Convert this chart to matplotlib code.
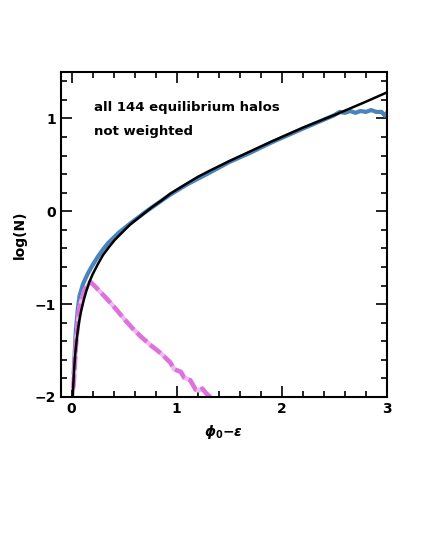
import numpy as np
import matplotlib
matplotlib.use('Agg')
import matplotlib.pyplot as plt
from matplotlib.ticker import MultipleLocator

plt.rcParams['font.family'] = ['DejaVu Sans']
plt.rcParams['font.weight'] = 'bold'

# model curve (black)
model_x = [0.012, 0.016, 0.022, 0.03, 0.038, 0.05, 0.06, 0.075, 0.092, 0.115, 0.14,
           0.17, 0.2, 0.25, 0.3, 0.36, 0.41, 0.48, 0.56, 0.66, 0.76, 0.86, 0.94,
           1.04, 1.2, 1.32, 1.5, 1.69, 1.9, 2.2, 2.53, 2.8, 3.0]
model_y = [-2.0, -1.88, -1.75, -1.61, -1.50, -1.37, -1.28, -1.17, -1.07, -0.96, -0.86,
           -0.76, -0.68, -0.57, -0.47, -0.38, -0.31, -0.23, -0.14, -0.05, 0.04, 0.12,
           0.19, 0.26, 0.37, 0.44, 0.54, 0.64, 0.75, 0.90, 1.05, 1.18, 1.28]

# all halos, not weighted (blue)
blue_x = [0.02, 0.04, 0.06, 0.076, 0.11, 0.155, 0.2, 0.25, 0.3, 0.35, 0.45, 0.56,
          0.7, 0.8, 0.94, 1.1, 1.32, 1.5, 1.7, 1.9, 2.2, 2.5, 2.55, 2.6, 2.65,
          2.7, 2.75, 2.8, 2.85, 2.9, 2.95, 2.98, 3.0]
blue_y = [-1.75, -1.3, -1.05, -0.91, -0.78, -0.67, -0.58, -0.49, -0.41, -0.34, -0.23,
          -0.13, -0.01, 0.07, 0.18, 0.29, 0.42, 0.53, 0.63, 0.74, 0.89, 1.035, 1.07,
          1.06, 1.08, 1.06, 1.08, 1.07, 1.09, 1.07, 1.07, 1.03, 1.06]

# second component (pink, dashed)
pink_x = [0.016, 0.022, 0.045, 0.076, 0.124, 0.18, 0.25, 0.35, 0.435, 0.50, 0.58,
          0.66, 0.75, 0.85, 0.94, 0.975, 1.04, 1.07, 1.13, 1.18, 1.21, 1.245, 1.28, 1.32]
pink_y = [-1.9, -1.82, -1.39, -1.03, -0.85, -0.76, -0.84, -0.96, -1.07, -1.16, -1.26,
          -1.35, -1.44, -1.53, -1.63, -1.70, -1.73, -1.79, -1.82, -1.92, -1.93, -1.91,
          -1.96, -2.0]

fig = plt.figure(figsize=(4.21, 5.45), dpi=100)
ax = fig.add_axes([0.145, 0.2716, 0.774, 0.5963])

ax.plot(blue_x, blue_y, color='#4a84bd', lw=3.0, solid_capstyle='round')
ax.plot(pink_x, pink_y, color='#f0b8f0', lw=3.2)
ax.plot(pink_x, pink_y, color='#dd72dd', lw=3.2, ls=(0, (3, 1)))
ax.plot(model_x, model_y, color='black', lw=1.8)

ax.set_xlim(-0.1, 3.0)
ax.set_ylim(-2.0, 1.5)
ax.xaxis.set_major_locator(MultipleLocator(1))
ax.xaxis.set_minor_locator(MultipleLocator(0.2))
ax.yaxis.set_major_locator(MultipleLocator(1))
ax.yaxis.set_minor_locator(MultipleLocator(0.2))
ax.tick_params(which='both', direction='in', top=True, right=True, width=1.2,
               labelsize=10)
ax.tick_params(which='major', length=8)
ax.tick_params(which='minor', length=4)
for s in ax.spines.values():
    s.set_linewidth(1.5)
ax.set_yticks([-2, -1, 0, 1])
ax.set_yticklabels(['\u22122', '\u22121', '0', '1'], fontweight='bold')
ax.set_xticks([0, 1, 2, 3])
ax.set_xticklabels(['0', '1', '2', '3'], fontweight='bold')

ax.text(0.21, 1.12, 'all 144 equilibrium halos', fontsize=9.5, fontweight='bold',
        va='center', ha='left')
ax.text(0.21, 0.86, 'not weighted', fontsize=9.5, fontweight='bold',
        va='center', ha='left')

ax.set_ylabel('log(N)', fontsize=10, fontweight='bold', labelpad=6)
ax.set_xlabel(r'$\boldsymbol{\phi_0}$' + '\u2212' + r'$\boldsymbol{\epsilon}$',
              fontsize=10, fontweight='bold', labelpad=5)

fig.savefig('out.png', dpi=100)
